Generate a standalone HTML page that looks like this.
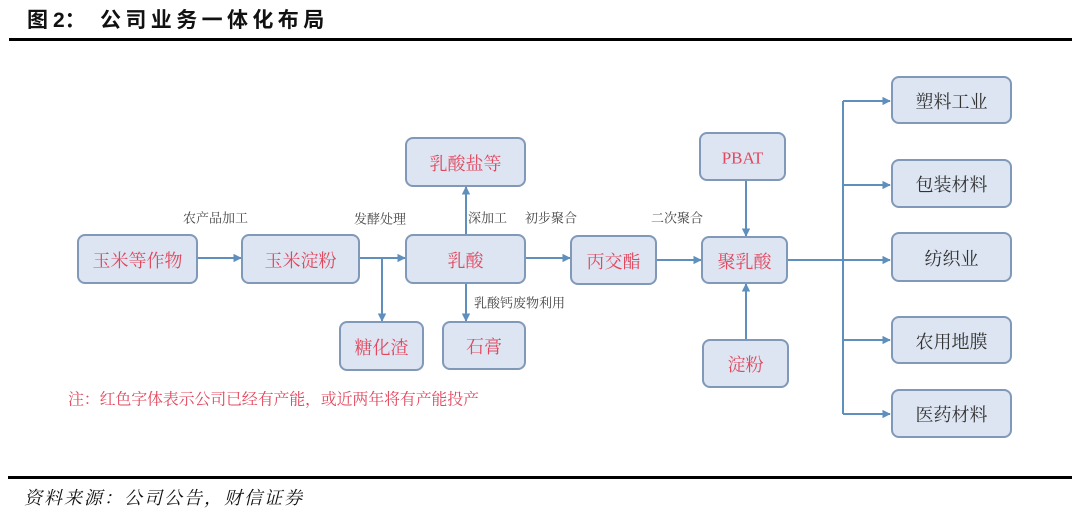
<!DOCTYPE html>
<html><head><meta charset="utf-8"><style>
html,body{margin:0;padding:0;background:#fff;}
body{width:1080px;height:523px;overflow:hidden;position:relative;}
svg{position:absolute;left:0;top:0;}
</style></head><body>
<svg width="1080" height="523" viewBox="0 0 1080 523" xmlns="http://www.w3.org/2000/svg">
<defs>
<marker id="ah" viewBox="0 0 10 10" refX="9" refY="5" markerWidth="4.2" markerHeight="4.2" orient="auto" markerUnits="strokeWidth">
<path d="M0,0 L10,5 L0,10 z" fill="#5f8fbd"/>
</marker>
</defs>
<rect width="1080" height="523" fill="#fff"/>
<!-- title -->
<g font-family="'Liberation Sans','Noto Sans CJK SC',sans-serif" font-weight="bold" font-size="21" fill="#111">
<text x="27" y="27">图</text>
<text x="53" y="27">2：</text>
<text x="100" y="27" letter-spacing="4.4">公司业务一体化布局</text>
</g>
<rect x="9" y="38" width="1063" height="3" fill="#000"/>
<rect x="8" y="476" width="1064" height="3" fill="#000"/>
<text x="24" y="504" font-family="'Liberation Serif','Noto Serif CJK SC',serif" font-style="italic" font-size="18" letter-spacing="2" fill="#111">资料来源：公司公告，财信证券</text>

<!-- connectors -->
<g stroke="#5f8fbd" stroke-width="2" fill="none">
<line x1="197" y1="258" x2="241" y2="258" marker-end="url(#ah)"/>
<line x1="359" y1="258" x2="405" y2="258" marker-end="url(#ah)"/>
<line x1="382" y1="258" x2="382" y2="321" marker-end="url(#ah)"/>
<line x1="466" y1="235" x2="466" y2="187" marker-end="url(#ah)"/>
<line x1="466" y1="283" x2="466" y2="321" marker-end="url(#ah)"/>
<line x1="525" y1="258" x2="570" y2="258" marker-end="url(#ah)"/>
<line x1="656" y1="260" x2="701" y2="260" marker-end="url(#ah)"/>
<line x1="746" y1="180" x2="746" y2="236" marker-end="url(#ah)"/>
<line x1="746" y1="340" x2="746" y2="284" marker-end="url(#ah)"/>
<line x1="787" y1="260" x2="890" y2="260" marker-end="url(#ah)"/>
<line x1="843" y1="101" x2="843" y2="414"/>
<line x1="843" y1="101" x2="890" y2="101" marker-end="url(#ah)"/>
<line x1="843" y1="185" x2="890" y2="185" marker-end="url(#ah)"/>
<line x1="843" y1="340" x2="890" y2="340" marker-end="url(#ah)"/>
<line x1="843" y1="414" x2="890" y2="414" marker-end="url(#ah)"/>
</g>

<!-- boxes -->
<g fill="#dce5f1" stroke="#8199b9" stroke-width="2">
<rect x="78" y="235" width="119" height="48" rx="7"/>
<rect x="242" y="235" width="117" height="48" rx="7"/>
<rect x="406" y="235" width="119" height="48" rx="7"/>
<rect x="406" y="138" width="119" height="48" rx="7"/>
<rect x="571" y="236" width="85" height="48" rx="7"/>
<rect x="340" y="322" width="83" height="48" rx="7"/>
<rect x="443" y="322" width="82" height="47" rx="7"/>
<rect x="700" y="133" width="85" height="47" rx="7"/>
<rect x="702" y="237" width="85" height="46" rx="7"/>
<rect x="703" y="340" width="85" height="47" rx="7"/>
<rect x="892" y="77" width="119" height="46" rx="7"/>
<rect x="892" y="160" width="119" height="47" rx="7"/>
<rect x="892" y="233" width="119" height="48" rx="7"/>
<rect x="892" y="317" width="119" height="46" rx="7"/>
<rect x="892" y="390" width="119" height="47" rx="7"/>
</g>

<!-- box labels -->
<g font-family="'Liberation Serif','Noto Serif CJK SC',serif" font-size="18" text-anchor="middle" dominant-baseline="central">
<g fill="#e3475e">
<text x="137.5" y="261">玉米等作物</text>
<text x="300.5" y="261">玉米淀粉</text>
<text x="465.5" y="261">乳酸</text>
<text x="465.5" y="164">乳酸盐等</text>
<text x="613.5" y="262">丙交酯</text>
<text x="381.5" y="348">糖化渣</text>
<text x="484" y="347">石膏</text>
<text x="742.5" y="158" font-size="17">PBAT</text>
<text x="744.5" y="262">聚乳酸</text>
<text x="745.5" y="365">淀粉</text>
</g>
<g fill="#333">
<text x="951.5" y="102">塑料工业</text>
<text x="951.5" y="185">包装材料</text>
<text x="951.5" y="259">纺织业</text>
<text x="951.5" y="342">农用地膜</text>
<text x="951.5" y="415">医药材料</text>
</g>
</g>

<!-- connector labels -->
<g font-family="'Liberation Serif','Noto Serif CJK SC',serif" font-size="13" fill="#444" dominant-baseline="central">
<text x="183" y="218">农产品加工</text>
<text x="354" y="219">发酵处理</text>
<text x="468" y="218">深加工</text>
<text x="525" y="218">初步聚合</text>
<text x="651" y="218">二次聚合</text>
<text x="474" y="303">乳酸钙废物利用</text>
</g>

<text x="68" y="400" font-family="'Liberation Serif','Noto Serif CJK SC',serif" font-size="16" letter-spacing="-0.2" fill="#e3475e" dominant-baseline="central">注：红色字体表示公司已经有产能，或近两年将有产能投产</text>
</svg>
</body></html>
